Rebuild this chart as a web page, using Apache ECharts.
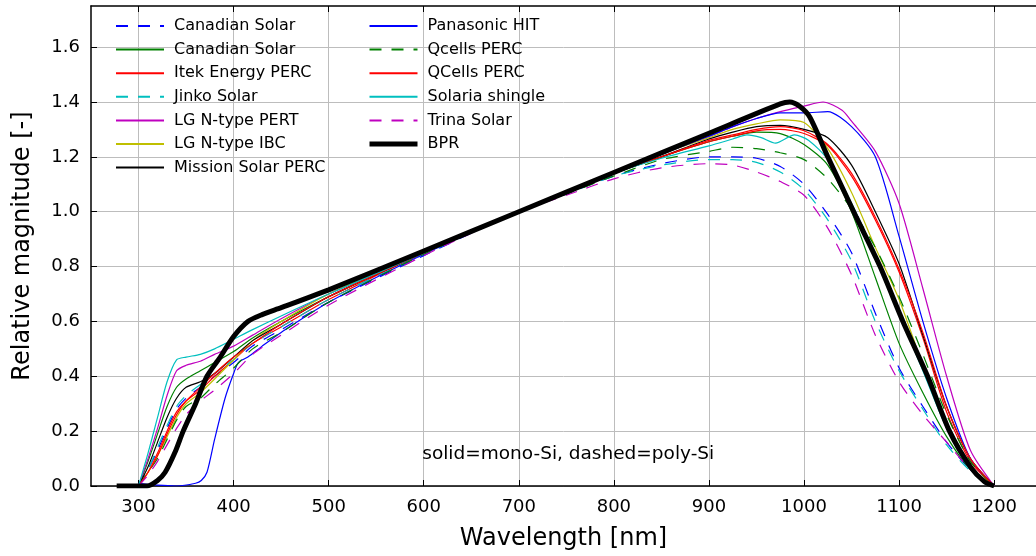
<!DOCTYPE html>
<html>
<head>
<meta charset="utf-8">
<script src="https://cdn.jsdelivr.net/npm/echarts@6/dist/echarts.min.js"></script>
<style>
  html, body { margin: 0; padding: 0; background: #fff; }
  #c1 { width: 1036px; height: 556px; }
</style>
</head>
<body>
<div id="c1"></div>
<script>
// tick labels
var xTicks = [300, 400, 500, 600, 700, 800, 900, 1000, 1100, 1200];
var yTicks = [0, 0.2, 0.4, 0.6, 0.8, 1.0, 1.2, 1.4, 1.6];

// [wavelength nm, relative magnitude]
var canadianPoly = [[300,0],[310,0.06],[320,0.13],[330,0.21],[340,0.28],[350,0.32],[365,0.36],[380,0.40],[400,0.45],[420,0.51],[450,0.57],[500,0.67],[600,0.84],[700,1.0],[750,1.065],[800,1.13],[850,1.175],[900,1.2],[925,1.2],[950,1.195],[975,1.165],[1000,1.1],[1025,0.99],[1050,0.85],[1075,0.63],[1100,0.43],[1125,0.29],[1150,0.16],[1175,0.06],[1200,0]];
var canadianMono = [[300,0],[310,0.09],[320,0.19],[330,0.29],[340,0.36],[350,0.39],[365,0.42],[380,0.45],[400,0.49],[420,0.54],[450,0.60],[500,0.69],[600,0.85],[700,1.0],[750,1.07],[800,1.14],[850,1.2],[900,1.255],[925,1.275],[950,1.29],[975,1.285],[1000,1.245],[1025,1.17],[1050,1.0],[1075,0.76],[1100,0.52],[1125,0.34],[1150,0.18],[1175,0.06],[1200,0]];
var itekPerc = [[300,0],[310,0.05],[320,0.12],[330,0.2],[340,0.27],[350,0.31],[365,0.35],[380,0.40],[400,0.46],[420,0.52],[450,0.58],[500,0.68],[600,0.85],[700,1.0],[750,1.07],[800,1.14],[850,1.2],[900,1.255],[925,1.275],[950,1.295],[975,1.30],[1000,1.285],[1025,1.24],[1050,1.13],[1075,0.97],[1100,0.78],[1125,0.54],[1150,0.27],[1175,0.09],[1200,0]];
var jinko = [[300,0],[310,0.06],[320,0.14],[330,0.22],[340,0.29],[350,0.33],[365,0.37],[380,0.41],[400,0.46],[420,0.52],[450,0.58],[500,0.68],[600,0.845],[700,1.0],[750,1.065],[800,1.13],[850,1.17],[900,1.19],[925,1.19],[950,1.18],[975,1.145],[1000,1.08],[1025,0.97],[1050,0.82],[1075,0.6],[1100,0.42],[1125,0.28],[1150,0.15],[1175,0.055],[1200,0]];
var lgPert = [[300,0],[310,0.1],[320,0.21],[330,0.33],[340,0.42],[350,0.44],[365,0.455],[380,0.48],[400,0.51],[420,0.55],[450,0.61],[500,0.70],[600,0.85],[700,1.0],[750,1.07],[800,1.14],[850,1.21],[900,1.275],[925,1.31],[950,1.34],[975,1.365],[1000,1.385],[1020,1.40],[1040,1.37],[1050,1.33],[1075,1.22],[1100,1.03],[1125,0.72],[1150,0.4],[1175,0.13],[1200,0]];
var lgIbc = [[300,0],[310,0.05],[320,0.11],[330,0.18],[340,0.25],[350,0.3],[365,0.34],[380,0.39],[400,0.46],[420,0.53],[450,0.6],[500,0.7],[600,0.855],[700,1.0],[750,1.07],[800,1.14],[850,1.21],[900,1.27],[925,1.3],[950,1.32],[975,1.335],[1000,1.325],[1025,1.23],[1050,1.07],[1075,0.87],[1100,0.68],[1125,0.44],[1150,0.22],[1175,0.07],[1200,0]];
var mission = [[300,0],[310,0.07],[320,0.16],[330,0.25],[340,0.32],[350,0.36],[365,0.38],[380,0.41],[400,0.47],[420,0.53],[450,0.59],[500,0.69],[600,0.85],[700,1.0],[750,1.07],[800,1.14],[850,1.2],[900,1.265],[925,1.29],[950,1.31],[975,1.315],[1000,1.3],[1025,1.27],[1050,1.17],[1075,1.0],[1100,0.81],[1125,0.55],[1150,0.29],[1175,0.1],[1200,0]];
var panasonic = [[300,0.01],[320,0.003],[340,0.0],[360,0.01],[366,0.02],[372,0.05],[380,0.17],[391,0.32],[400,0.41],[405,0.45],[415,0.47],[430,0.51],[450,0.56],[500,0.67],[600,0.845],[700,1.0],[750,1.07],[800,1.14],[850,1.21],[900,1.275],[925,1.31],[950,1.34],[975,1.36],[1000,1.36],[1025,1.365],[1050,1.31],[1075,1.2],[1100,0.91],[1125,0.6],[1150,0.32],[1175,0.1],[1200,0]];
var qcellsPoly = [[300,0],[310,0.05],[320,0.1],[330,0.17],[340,0.24],[350,0.29],[365,0.32],[380,0.37],[400,0.43],[420,0.50],[450,0.56],[500,0.67],[600,0.845],[700,1.0],[750,1.065],[800,1.13],[850,1.19],[900,1.22],[925,1.235],[950,1.23],[975,1.215],[1000,1.19],[1025,1.12],[1050,1.01],[1075,0.87],[1100,0.69],[1125,0.48],[1150,0.26],[1175,0.09],[1200,0]];
var qcellsMono = [[300,0],[310,0.05],[320,0.11],[330,0.19],[340,0.26],[350,0.31],[365,0.36],[380,0.41],[400,0.47],[420,0.52],[450,0.59],[500,0.69],[600,0.85],[700,1.0],[750,1.07],[800,1.14],[850,1.2],[900,1.26],[925,1.28],[950,1.3],[975,1.31],[1000,1.295],[1025,1.245],[1050,1.14],[1075,0.98],[1100,0.79],[1125,0.56],[1150,0.29],[1175,0.1],[1200,0]];
var solaria = [[300,0],[310,0.12],[320,0.25],[330,0.38],[340,0.46],[350,0.47],[365,0.48],[380,0.5],[400,0.535],[420,0.57],[450,0.62],[500,0.7],[600,0.85],[700,1.0],[750,1.07],[800,1.14],[850,1.195],[900,1.24],[925,1.265],[940,1.28],[955,1.27],[970,1.25],[990,1.28],[1005,1.26],[1025,1.19],[1050,1.03],[1075,0.84],[1100,0.63],[1125,0.42],[1150,0.21],[1175,0.06],[1200,0]];
var trina = [[300,0],[310,0.04],[320,0.09],[330,0.15],[340,0.21],[350,0.26],[365,0.31],[380,0.35],[400,0.41],[420,0.48],[450,0.55],[500,0.66],[600,0.84],[700,1.0],[750,1.06],[800,1.12],[850,1.16],[900,1.175],[925,1.17],[950,1.145],[975,1.11],[1000,1.06],[1025,0.94],[1050,0.77],[1075,0.55],[1100,0.38],[1125,0.26],[1150,0.16],[1175,0.06],[1200,0]];
var bpr = [[277,0],[300,0],[309,0],[320,0.02],[328,0.05],[338,0.12],[347,0.2],[360,0.3],[372,0.4],[385,0.465],[400,0.545],[415,0.6],[430,0.625],[450,0.65],[500,0.715],[600,0.857],[700,1.0],[800,1.143],[900,1.286],[975,1.393],[985,1.40],[995,1.385],[1006,1.345],[1025,1.2],[1055,0.98],[1080,0.8],[1104,0.6],[1130,0.4],[1153,0.2],[1175,0.07],[1190,0.015],[1200,0]];

var FONT = 'DejaVu Sans';

function mk(name, data, color, dashed, width) {
    return {
        name: name,
        type: 'line',
        data: data,
        symbol: 'none',
        smooth: 0.25,
        color: color,
        lineStyle: { color: color, width: width || 1.2, type: dashed ? [12, 10] : 'solid' },
        z: 2
    };
}

var series = [
    mk('Canadian Solar', canadianPoly, '#0000ff', true),
    mk('Canadian Solar ', canadianMono, '#008000', false),
    mk('Itek Energy PERC', itekPerc, '#ff0000', false),
    mk('Jinko Solar', jinko, '#00bfbf', true),
    mk('LG N-type PERT', lgPert, '#bf00bf', false),
    mk('LG N-type IBC', lgIbc, '#bfbf00', false),
    mk('Mission Solar PERC', mission, '#000000', false),
    mk('Panasonic HIT', panasonic, '#0000ff', false),
    mk('Qcells PERC', qcellsPoly, '#008000', true),
    mk('QCells PERC', qcellsMono, '#ff0000', false),
    mk('Solaria shingle', solaria, '#00bfbf', false),
    mk('Trina Solar', trina, '#bf00bf', true),
    mk('BPR', bpr, '#000000', false, 5)
];
series[12].z = 3;

var names = series.map(function (s) {
    return s.name === 'BPR' ? { name: 'BPR', lineStyle: { width: 5 } } : s.name;
});

function legendCol(left, items) {
    return {
        orient: 'vertical',
        left: left,
        top: 13,
        data: items,
        selectedMode: false,
        itemWidth: 48,
        itemHeight: 14,
        itemGap: 7.6,
        itemStyle: { opacity: 0 },
        textStyle: { fontFamily: FONT, fontSize: 16, color: '#000', padding: [0, 0, 0, 5], lineHeight: 14 }
    };
}

var chartDom = document.getElementById('c1');
var myChart = echarts.init(chartDom);
var option = {
    animation: false,
    backgroundColor: '#fff',
    grid: { left: 91, right: 0, top: 6, bottom: 69 },
    legend: [legendCol(110, names.slice(0, 7)), legendCol(362, names.slice(7))],
    xAxis: [{
        type: 'value',
        min: 250,
        max: 1244,
        name: 'Wavelength [nm]',
        nameLocation: 'middle',
        nameGap: 41,
        nameTextStyle: { fontFamily: FONT, fontSize: 24, color: '#000' },
        axisLine: { lineStyle: { color: '#000', width: 1.5 } },
        axisTick: { inside: true, length: 6, lineStyle: { color: '#000' }, customValues: xTicks },
        axisLabel: {
            fontFamily: FONT, fontSize: 18, color: '#000', margin: 12, customValues: xTicks,
            formatter: function (v) { return String(v); }
        },
        splitLine: { show: true, lineStyle: { color: '#bdbdbd', width: 1 } }
    }, {
        type: 'value',
        position: 'top',
        min: 250,
        max: 1244,
        axisLine: { show: true, lineStyle: { color: '#000', width: 1.5 } },
        axisTick: { inside: true, length: 6, lineStyle: { color: '#000' }, customValues: xTicks },
        axisLabel: { show: false },
        splitLine: { show: false }
    }],
    yAxis: {
        type: 'value',
        min: 0,
        max: 1.75,
        name: 'Relative magnitude [-]',
        nameLocation: 'middle',
        nameGap: 56,
        nameTextStyle: { fontFamily: FONT, fontSize: 24, color: '#000' },
        axisLine: { lineStyle: { color: '#000', width: 1.5 } },
        axisTick: { inside: true, length: 6, lineStyle: { color: '#000' }, customValues: yTicks },
        axisLabel: {
            fontFamily: FONT, fontSize: 18, color: '#000', margin: 11, customValues: yTicks,
            formatter: function (v) { return v.toFixed(1); }
        },
        splitLine: { show: true, lineStyle: { color: '#bdbdbd', width: 1 } }
    },
    series: series
};
myChart.setOption(option);

// note text placed in data coordinates
var p = myChart.convertToPixel({ gridIndex: 0 }, [752, 0.115]);
myChart.setOption({
    graphic: [{
        type: 'text',
        x: p[0],
        y: p[1],
        style: {
            text: 'solid=mono-Si, dashed=poly-Si',
            fontFamily: FONT, fontSize: 18.5, fill: '#000',
            textAlign: 'center', textVerticalAlign: 'middle'
        },
        z: 10
    }]
});
</script>
</body>
</html>
